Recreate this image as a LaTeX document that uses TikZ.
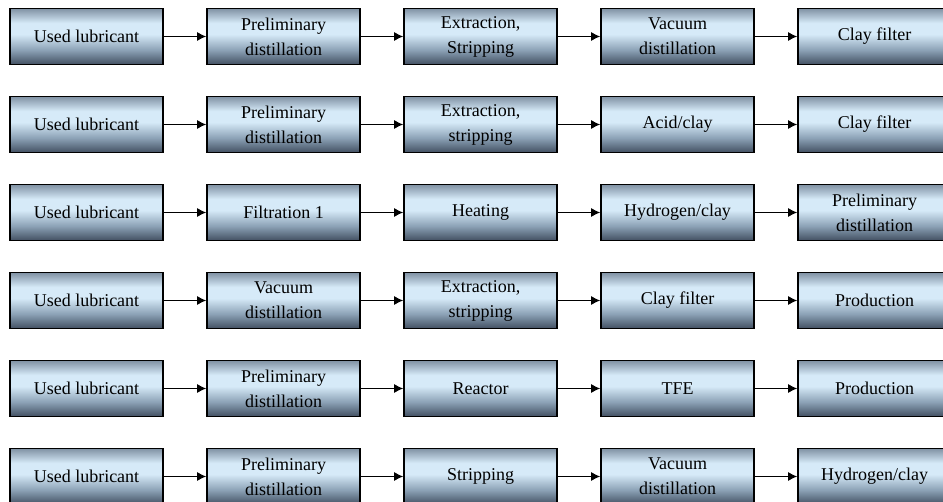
\documentclass[tikz,border=0pt]{standalone}
\usepackage{fontspec}
\setmainfont{Liberation Serif}
\usepackage{tikz}
\usetikzlibrary{arrows.meta}

\definecolor{boxtop}{RGB}{128,146,164}
\definecolor{boxmid}{RGB}{214,234,248}
\definecolor{boxlow}{RGB}{140,162,182}
\definecolor{boxbot}{RGB}{66,80,98}

% light band a little above the middle, dark at the foot
% (the box itself covers 25bp..75bp of the shading)
\pgfdeclareverticalshading{boxshade}{100bp}{%
  color(0bp)=(boxbot); color(25bp)=(boxbot); color(38bp)=(boxlow);
  color(52bp)=(boxmid); color(62bp)=(boxmid); color(75bp)=(boxtop);
  color(100bp)=(boxtop)}

\tikzset{
  procbox/.style={draw=black, line width=0.8pt, minimum width=76.5pt,
    minimum height=28pt, align=center, inner sep=1pt,
    font=\fontsize{9}{12.5}\selectfont, shading=boxshade},
  flow/.style={-{Latex[length=4.5pt,width=4.5pt]}, line width=0.6pt}
}

% one row of five process boxes, linked left to right
\newcommand{\procrow}[6]{%
  \node[procbox] (r#1c1) at (86.5,  {36.5+88*(#1-1)}) {#2};
  \node[procbox] (r#1c2) at (283.5, {36.5+88*(#1-1)}) {#3};
  \node[procbox] (r#1c3) at (480.5, {36.5+88*(#1-1)}) {#4};
  \node[procbox] (r#1c4) at (677.5, {36.5+88*(#1-1)}) {#5};
  \node[procbox] (r#1c5) at (874.5, {36.5+88*(#1-1)}) {#6};
  \draw[flow] (r#1c1) -- (r#1c2);
  \draw[flow] (r#1c2) -- (r#1c3);
  \draw[flow] (r#1c3) -- (r#1c4);
  \draw[flow] (r#1c4) -- (r#1c5);
}

\begin{document}
\begin{tikzpicture}[x=0.5pt, y=-0.5pt]
  \useasboundingbox (0,0) rectangle (943,502);

  \procrow{1}{Used lubricant}{Preliminary\\distillation}{Extraction,\\Stripping}{Vacuum\\distillation}{Clay filter}
  \procrow{2}{Used lubricant}{Preliminary\\distillation}{Extraction,\\stripping}{Acid/clay}{Clay filter}
  \procrow{3}{Used lubricant}{Filtration 1}{Heating}{Hydrogen/clay}{Preliminary\\distillation}
  \procrow{4}{Used lubricant}{Vacuum\\distillation}{Extraction,\\stripping}{Clay filter}{Production}
  \procrow{5}{Used lubricant}{Preliminary\\distillation}{Reactor}{TFE}{Production}
  \procrow{6}{Used lubricant}{Preliminary\\distillation}{Stripping}{Vacuum\\distillation}{Hydrogen/clay}
\end{tikzpicture}
\end{document}
